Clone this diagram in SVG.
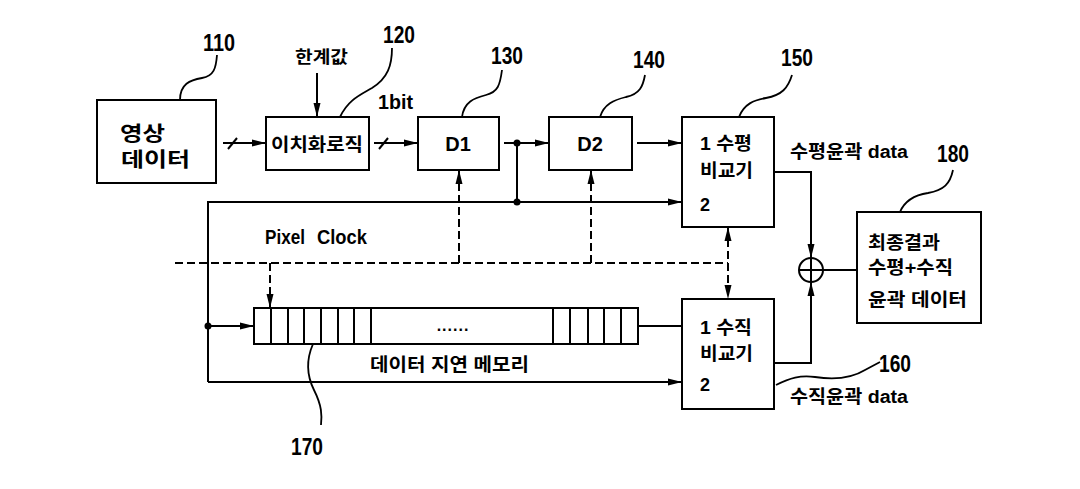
<svg xmlns="http://www.w3.org/2000/svg" width="1080" height="489" viewBox="0 0 1080 489">
<defs>
<marker id="ah" viewBox="0 0 14 8" refX="14" refY="4" markerWidth="14" markerHeight="8" markerUnits="userSpaceOnUse" orient="auto-start-reverse">
<path d="M0,0.5 L14,4 L0,7.5 Z" fill="#000"/>
</marker>
</defs>
<style>
.box{fill:#fff;stroke:#000;stroke-width:2}
.ln{fill:none;stroke:#000;stroke-width:2}
.dl{fill:none;stroke:#000;stroke-width:2;stroke-dasharray:8 4}
.ld{fill:none;stroke:#000;stroke-width:1.8}
.t{font-family:"Liberation Sans","Noto Sans CJK KR",sans-serif;font-weight:bold;fill:#000}
.k{font-size:18px}
.n{font-size:24px}
</style>
<rect width="1080" height="489" fill="#fff"/>

<g id="connectors">
<line class="ln" x1="223" y1="143" x2="266" y2="143" marker-end="url(#ah)"/>
<line class="ln" x1="228" y1="149" x2="237" y2="138"/>
<line class="ln" x1="317" y1="73" x2="317" y2="117" marker-end="url(#ah)"/>
<line class="ln" x1="374" y1="143" x2="418" y2="143" marker-end="url(#ah)"/>
<line class="ln" x1="379" y1="149" x2="388" y2="138"/>
<line class="ln" x1="504" y1="143" x2="549" y2="143" marker-end="url(#ah)"/>
<circle cx="517" cy="143" r="3.5" fill="#000"/>
<line class="ln" x1="517" y1="143" x2="517" y2="202"/>
<circle cx="517" cy="202" r="3.5" fill="#000"/>
<line class="ln" x1="637" y1="143" x2="682" y2="143" marker-end="url(#ah)"/>
<polyline class="ln" points="208,382 208,202 682,202" marker-end="url(#ah)"/>
<line class="ln" x1="208" y1="382" x2="682" y2="382" marker-end="url(#ah)"/>
<circle cx="208" cy="326" r="3.5" fill="#000"/>
<line class="ln" x1="208" y1="326" x2="254" y2="326" marker-end="url(#ah)"/>
<line class="ln" x1="638" y1="326" x2="682" y2="326"/>
<line class="dl" x1="175" y1="263" x2="728" y2="263"/>
<line class="dl" x1="270" y1="263" x2="270" y2="308" marker-end="url(#ah)"/>
<line class="dl" x1="459" y1="263" x2="459" y2="170" marker-end="url(#ah)"/>
<line class="dl" x1="591" y1="263" x2="591" y2="170" marker-end="url(#ah)"/>
<line class="dl" x1="728" y1="227" x2="728" y2="299" marker-start="url(#ah)" marker-end="url(#ah)"/>
<polyline class="ln" points="774,172 811,172 811,258" marker-end="url(#ah)"/>
<polyline class="ln" points="774,363 811,363 811,282" marker-end="url(#ah)"/>
<circle class="ln" cx="811" cy="270" r="12"/>
<line class="ln" x1="799" y1="270" x2="823" y2="270"/>
<line class="ln" x1="811" y1="258" x2="811" y2="282"/>
<line class="ln" x1="823" y1="270" x2="857" y2="270"/>
</g>

<g id="leaders">
<path class="ld" d="M180,100 C180,84 190,80 202,78 C214,76 216,68 217,55"/>
<path class="ld" d="M340,117 C348,100 360,95 372,88 C388,78 392,65 392,48"/>
<path class="ld" d="M462,117 C464,102 474,98 486,95 C498,92 500,85 502,70"/>
<path class="ld" d="M600,117 C604,104 614,100 626,97 C640,94 643,86 645,75"/>
<path class="ld" d="M739,117 C744,104 754,100 766,98 C782,95 788,88 792,75"/>
<path class="ld" d="M900,212 C905,200 915,195 928,193 C944,190 950,184 953,170"/>
<path class="ld" d="M776,385 C790,378 800,375 815,377 C835,380 852,378 865,370 L880,362"/>
<path class="ld" d="M313,344 C306,360 306,374 314,390 C322,406 322,415 321,425"/>
</g>

<g id="n110">
<rect class="box" x="97" y="100" width="119" height="83"/>
<text class="t" x="120" y="141" font-size="20" textLength="45" lengthAdjust="spacingAndGlyphs">영상</text>
<text class="t" x="121" y="167" font-size="20" textLength="69" lengthAdjust="spacingAndGlyphs">데이터</text>
<text class="t n" x="203" y="51" textLength="32" lengthAdjust="spacingAndGlyphs">110</text>
</g>

<g id="n120">
<rect class="box" x="266" y="117" width="103" height="53"/>
<text class="t k" x="271" y="151" textLength="92" lengthAdjust="spacingAndGlyphs">이치화로직</text>
<text class="t" x="295" y="63" font-size="17" textLength="53" lengthAdjust="spacingAndGlyphs">한계값</text>
<text class="t n" x="383" y="43" textLength="32" lengthAdjust="spacingAndGlyphs">120</text>
<text class="t" x="378" y="109" font-size="20" textLength="35" lengthAdjust="spacingAndGlyphs">1bit</text>
</g>

<g id="n130">
<rect class="box" x="418" y="117" width="81" height="53"/>
<text class="t" x="458" y="151" font-size="20" text-anchor="middle">D1</text>
<text class="t n" x="491" y="64" textLength="32" lengthAdjust="spacingAndGlyphs">130</text>
</g>

<g id="n140">
<rect class="box" x="549" y="117" width="83" height="53"/>
<text class="t" x="590" y="151" font-size="20" text-anchor="middle">D2</text>
<text class="t n" x="633" y="68" textLength="32" lengthAdjust="spacingAndGlyphs">140</text>
</g>

<g id="n150">
<rect class="box" x="682" y="117" width="92" height="110"/>
<text class="t k" x="700" y="150" textLength="52" lengthAdjust="spacingAndGlyphs">1 수평</text>
<text class="t k" x="700" y="177" textLength="53" lengthAdjust="spacingAndGlyphs">비교기</text>
<text class="t k" x="700" y="211">2</text>
<text class="t n" x="781" y="66" textLength="32" lengthAdjust="spacingAndGlyphs">150</text>
<text class="t k" x="790" y="158" textLength="118" lengthAdjust="spacingAndGlyphs">수평윤곽 data</text>
</g>

<g id="n160">
<rect class="box" x="682" y="299" width="92" height="110"/>
<text class="t k" x="700" y="334" textLength="52" lengthAdjust="spacingAndGlyphs">1 수직</text>
<text class="t k" x="700" y="360" textLength="53" lengthAdjust="spacingAndGlyphs">비교기</text>
<text class="t k" x="700" y="391">2</text>
<text class="t n" x="879" y="372" textLength="32" lengthAdjust="spacingAndGlyphs">160</text>
<text class="t k" x="790" y="403" textLength="118" lengthAdjust="spacingAndGlyphs">수직윤곽 data</text>
</g>

<g id="n170">
<rect class="box" x="254" y="308" width="384" height="36"/>
<path class="ln" d="M271,308V344M288,308V344M304,308V344M321,308V344M338,308V344M354,308V344M371,308V344M553,308V344M570,308V344M588,308V344M604,308V344M621,308V344"/>
<text class="t" x="453" y="331" font-size="16" text-anchor="middle" letter-spacing="1">......</text>
<text class="t k" x="370" y="371" textLength="159" lengthAdjust="spacingAndGlyphs">데이터 지연 메모리</text>
<text class="t" y="244" font-size="20"><tspan x="265" textLength="40" lengthAdjust="spacingAndGlyphs">Pixel</tspan> <tspan x="317" textLength="50" lengthAdjust="spacingAndGlyphs">Clock</tspan></text>
<text class="t n" x="291" y="455" textLength="32" lengthAdjust="spacingAndGlyphs">170</text>
</g>

<g id="n180">
<rect class="box" x="857" y="212" width="124" height="111"/>
<text class="t k" x="868" y="249" textLength="72" lengthAdjust="spacingAndGlyphs">최종결과</text>
<text class="t k" x="868" y="274" textLength="85" lengthAdjust="spacingAndGlyphs">수평+수직</text>
<text class="t k" x="868" y="306" textLength="99" lengthAdjust="spacingAndGlyphs">윤곽 데이터</text>
<text class="t n" x="937" y="162" textLength="32" lengthAdjust="spacingAndGlyphs">180</text>
</g>
</svg>
